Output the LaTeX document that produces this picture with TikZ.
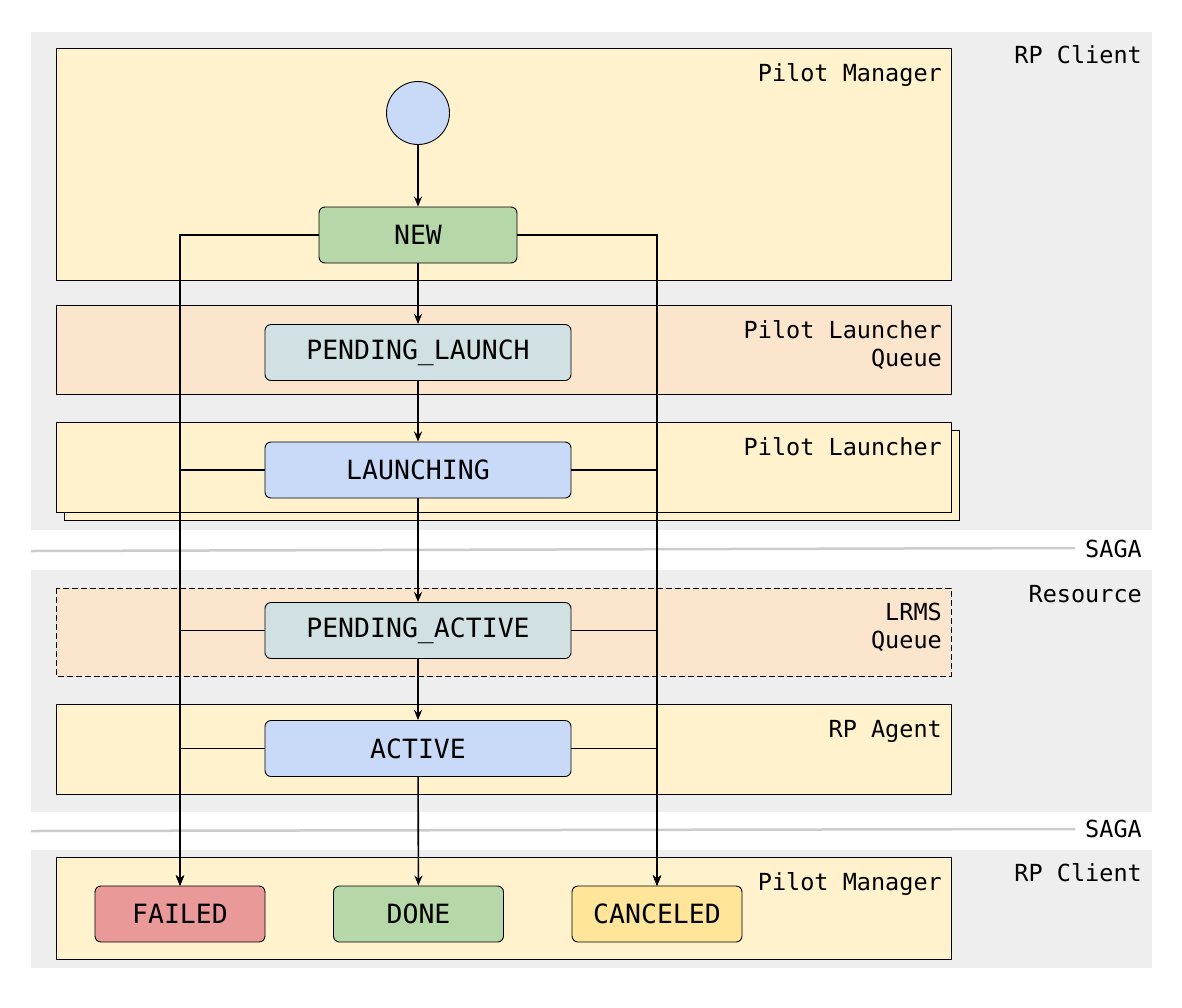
\documentclass[tikz,border=0pt]{standalone}
\usepackage{fontspec}
\setmonofont{DejaVu Sans Mono}
\usetikzlibrary{arrows.meta}
\definecolor{bggray}{HTML}{EEEEEE}
\definecolor{boxyel}{HTML}{FFF2CC}
\definecolor{boxora}{HTML}{FCE5CD}
\definecolor{stgreen}{HTML}{B6D7A8}
\definecolor{stteal}{HTML}{D0E0E3}
\definecolor{stblue}{HTML}{C9DAF8}
\definecolor{stred}{HTML}{EA9999}
\definecolor{styel}{HTML}{FFE599}
\definecolor{sagagray}{HTML}{CCCCCC}
\tikzset{
  lbl/.style={anchor=base east, inner sep=0pt, font=\ttfamily\fontsize{23.5}{26}\selectfont},
  state/.style={draw=black, line width=0.9pt, rounded corners=6pt, minimum height=56pt, inner sep=0pt, font=\ttfamily\fontsize{26.5}{30}\selectfont},
  wide/.style={state, minimum width=306pt},
  small/.style={state, minimum width=170pt},
  zone/.style={draw=black, line width=0.9pt},
  conn/.style={draw=black, line width=1.6pt},
  arr/.style={conn, -{Stealth[length=10pt,width=8pt]}},
}
\begin{document}
\begin{tikzpicture}[x=1pt,y=-1pt]
\useasboundingbox (0,0) rectangle (1182,1007);
\fill[white] (0,0) rectangle (1182,1007);
% gray regions
\fill[bggray] (31,32) rectangle (1152,530);
\fill[bggray] (31,570) rectangle (1152,812);
\fill[bggray] (31,850) rectangle (1152,968);
% SAGA lines
\draw[sagagray, line width=2.5pt] (31,551) -- (1075,548);
\draw[sagagray, line width=2.5pt] (31,831) -- (1075,829);
\node[lbl] (saga1) at (1142,557) {SAGA};
\node[lbl] (saga2) at (1142,837) {SAGA};
% zones
\draw[zone, fill=boxyel] (56,48) rectangle (951,280);
\draw[zone, fill=boxora] (56,305) rectangle (951,394);
\draw[zone, fill=boxyel] (64,430) rectangle (959,520);
\draw[zone, fill=boxyel] (56,422) rectangle (951,512);
\draw[zone, fill=boxora, dash pattern=on 6pt off 3pt] (56,588) rectangle (951,676);
\draw[zone, fill=boxyel] (56,704) rectangle (951,794);
\draw[zone, fill=boxyel] (56,857) rectangle (951,959);
% labels
\node[lbl] (rpc1) at (1142,63) {RP Client};
\node[lbl] (pm1) at (942,81) {Pilot Manager};
\node[lbl] (plq1) at (942,338) {Pilot Launcher};
\node[lbl] (plq2) at (942,366) {Queue};
\node[lbl] (pl) at (942,455) {Pilot Launcher};
\node[lbl] (res) at (1142,602) {Resource};
\node[lbl] (lq1) at (942,620) {LRMS};
\node[lbl] (lq2) at (942,648) {Queue};
\node[lbl] (agent) at (942,737) {RP Agent};
\node[lbl] (pm2) at (942,890) {Pilot Manager};
\node[lbl] (rpc2) at (1142,881) {RP Client};
% states
\node[circle, draw=black, line width=0.9pt, fill=stblue, minimum size=63pt, inner sep=0pt] (start) at (418,113) {};
\node[state, fill=stgreen, minimum width=198pt] (new) at (418,235) {NEW};
\node[wide, fill=stteal] (pl_) at (418,352.5) {PENDING\_LAUNCH};
\node[wide, fill=stblue] (launching) at (418,470) {LAUNCHING};
\node[wide, fill=stteal] (pa) at (418,630.5) {PENDING\_ACTIVE};
\node[wide, fill=stblue] (active) at (418,748.5) {ACTIVE};
\node[small, fill=stred] (failed) at (180,914) {FAILED};
\node[small, fill=stgreen] (done) at (418.5,914) {DONE};
\node[small, fill=styel] (canceled) at (657,914) {CANCELED};
% main flow
\draw[arr] (start) -- (new);
\draw[arr] (new) -- (pl_);
\draw[arr] (pl_) -- (launching);
\draw[arr] (launching) -- (pa);
\draw[arr] (pa) -- (active);
\draw[arr] (active) -- (done);
% failure / cancel branches
\foreach \s in {new,launching,pa,active}{
  \draw[arr] (\s.west) -| (failed.north);
  \draw[arr] (\s.east) -| (canceled.north);
}
\end{tikzpicture}
\end{document}
